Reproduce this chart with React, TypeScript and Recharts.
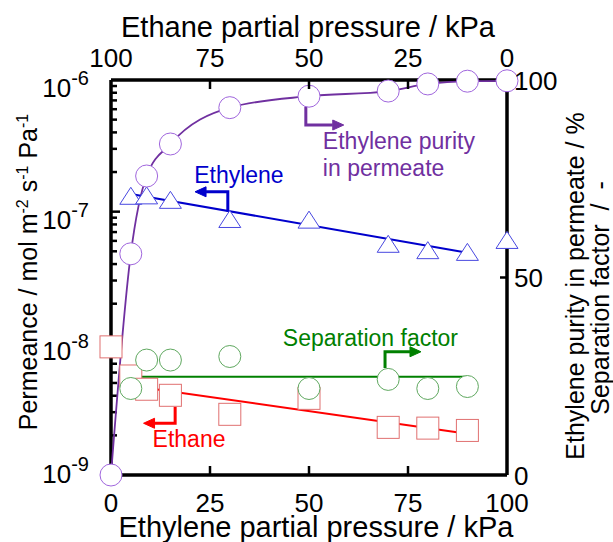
import React from "react";
import { ComposedChart, XAxis, YAxis, Scatter, ReferenceDot } from "recharts";

const FONT = "'Liberation Sans', Arial, Helvetica, sans-serif";

// ethylene partial pressure / kPa (ethane = 100 - ethylene)
const purityX = [0, 5, 9, 15, 30, 50, 70, 80, 90, 100];
const purity = [0, 56, 75.7, 83.8, 93, 95.9, 97.2, 99, 99.7, 99.8];

const ethyleneX = [5, 9, 15, 30, 50, 70, 80, 90, 100];
const ethylenePerm = [1.32e-7, 1.33e-7, 1.23e-7, 8.8e-8, 8.7e-8, 5.7e-8, 5.1e-8, 4.95e-8, 6.1e-8];

const ethaneX = [0, 5, 9, 15, 30, 50, 70, 80, 90];
const ethanePerm = [9.4e-9, 5.65e-9, 4.48e-9, 4.03e-9, 2.89e-9, 3.82e-9, 2.3e-9, 2.27e-9, 2.18e-9];

const sepX = [5, 9, 15, 30, 50, 70, 80, 90];
const sepFactor = [21.9, 29.1, 29.1, 30, 21.9, 24.2, 21.9, 22.4];

// fitted lines
const ethyleneFitX = [5, 90];
const ethyleneFit = [1.36e-7, 4.88e-8];
const ethaneFitX = [5, 90];
const ethaneFit = [4.77e-9, 2.06e-9];
const sepFitX = [5, 90];
const sepFit = [24.9, 24.9];

// axis ticks
const bottomTicks = [0, 25, 50, 75, 100];
const rightTicks = [0, 50, 100];
const decades = [1e-9, 1e-8, 1e-7, 1e-6];
const decadeExp = [-9, -8, -7, -6];
const minorMult = [2, 3, 4, 5, 6, 7, 8, 9];

// annotation arrows: [x (kPa), y (right axis)]
const ethyleneArrow = [[29.5, 66.7], [29.5, 71.7], [24, 71.7]];
const purityArrow = [[49.2, 93.2], [49.2, 88.6], [56, 88.6]];
const sepArrow = [[69.2, 27.1], [69.2, 31.2], [75.5, 31.2]];
const ethaneArrow = [[16.2, 17.3], [16.2, 13.1], [11, 13.1]];

const zip = (xs: number[], ys: number[]) => xs.map((x, i) => ({ x, y: ys[i] }));
const pts = (a: number[][]) => a.map(([x, y]) => ({ x, y }));

const minorTicks = decades.slice(0, 3).flatMap((d) => minorMult.map((m) => d * m));
const innerMajor = decades.slice(1, 3);

const PURPLE = "#7030A0";
const BLUE = "#0000CC";
const GREEN = "#008000";
const RED = "#FF0000";

const circle = (stroke: string) => (p: any) => (
  <circle cx={p.cx} cy={p.cy} r={11} fill="#fff" stroke={stroke} strokeWidth={1} />
);
const square = (p: any) => (
  <rect x={p.cx - 11} y={p.cy - 11} width={22} height={22} fill="#fff" stroke="#E07070" strokeWidth={1} />
);
const triangle = (p: any) => (
  <polygon
    points={`${p.cx},${p.cy - 8.5} ${p.cx + 11},${p.cy + 8.5} ${p.cx - 11},${p.cy + 8.5}`}
    fill="#fff"
    stroke="#4848E0"
    strokeWidth={1}
  />
);
const noDot = () => <g />;
const tickMark = (len: number) => (p: any) => (
  <path d={`M${p.cx},${p.cy}H${p.cx + len}`} stroke="#000" strokeWidth={2.5} fill="none" />
);

const arrowHead = (arr: number[][], dir: number, color: string) => (p: any) => {
  const last = arr[arr.length - 1];
  if (!p.payload || p.payload.x !== last[0] || p.payload.y !== last[1]) return <g />;
  return (
    <polygon
      points={`${p.cx},${p.cy - 5} ${p.cx + dir * 11},${p.cy} ${p.cx},${p.cy + 5}`}
      fill={color}
      stroke={color}
      strokeWidth={1}
    />
  );
};

const LeftTick = (p: any) => {
  const v = p.payload.value;
  const di = decades.findIndex((d) => Math.abs(d - v) / d < 1e-6);
  if (di < 0) return <g />;
  const base = di === 0 ? 8 : 17;
  return (
    <text x={p.x - 22} y={p.y + base} textAnchor="end" fontSize={26} fontFamily={FONT} fill="#000">
      <tspan>10</tspan>
      <tspan dy={-12} fontSize={20}>{`-${-decadeExp[di]}`}</tspan>
    </text>
  );
};

const RightTick = (p: any) => (
  <text x={p.x + 7} y={p.y + 9.5} fontSize={26} fontFamily={FONT} fill="#000">
    {p.payload.value}
  </text>
);

const BottomTick = (p: any) => {
  const v = p.payload.value;
  return (
    <g>
      {v !== 0 && v !== 100 && (
        <path d={`M${p.x},${p.y}V${p.y - 9}`} stroke="#000" strokeWidth={2.5} fill="none" />
      )}
      <text x={p.x} y={p.y + 37} textAnchor="middle" fontSize={26} fontFamily={FONT} fill="#000">
        {v}
      </text>
    </g>
  );
};

const TopTick = (p: any) => {
  const v = p.payload.value;
  return (
    <g>
      {v !== 0 && v !== 100 && (
        <path d={`M${p.x},${p.y}V${p.y + 9}`} stroke="#000" strokeWidth={2.5} fill="none" />
      )}
      <text x={p.x} y={p.y - 13} textAnchor="middle" fontSize={26} fontFamily={FONT} fill="#000">
        {v}
      </text>
    </g>
  );
};

const label = (lines: string[], color: string) => (p: any) => (
  <text x={p.cx} y={p.cy} fontSize={23} fontFamily={FONT} fill={color}>
    {lines.map((s, i) => (
      <tspan key={i} x={p.cx} dy={i === 0 ? 0 : 26.7}>
        {s}
      </tspan>
    ))}
  </text>
);

const axisLine = { stroke: "#000", strokeWidth: 3.5 };

export default function App() {
  return (
    <div style={{ position: "absolute", left: 0, top: 0, background: "#fff" }}>
      <ComposedChart width={613} height={542} margin={{ top: 0, right: 0, bottom: 0, left: 0 }}>
        <XAxis
          xAxisId="bottom"
          dataKey="x"
          type="number"
          domain={[0, 100]}
          ticks={bottomTicks}
          interval={0}
          height={67}
          tickSize={0}
          tickMargin={0}
          tickLine={false}
          axisLine={axisLine}
          tick={<BottomTick />}
        />
        <XAxis
          xAxisId="top"
          dataKey="x"
          orientation="top"
          type="number"
          domain={[0, 100]}
          reversed
          ticks={bottomTicks}
          interval={0}
          height={80}
          tickSize={0}
          tickMargin={0}
          tickLine={false}
          axisLine={axisLine}
          tick={<TopTick />}
        />
        <YAxis
          yAxisId="left"
          dataKey="y"
          type="number"
          scale="log"
          domain={[1e-9, 1e-6]}
          ticks={decades}
          interval={0}
          width={111}
          tickSize={0}
          tickMargin={0}
          tickLine={false}
          axisLine={axisLine}
          tick={<LeftTick />}
        />
        <YAxis
          yAxisId="right"
          dataKey="y"
          orientation="right"
          type="number"
          domain={[0, 100]}
          ticks={rightTicks}
          interval={0}
          width={106}
          tickSize={0}
          tickMargin={0}
          tickLine={false}
          axisLine={axisLine}
          tick={<RightTick />}
        />

        {/* inward tick marks of the log axis and the right axis */}
        <Scatter xAxisId="bottom" yAxisId="left" data={innerMajor.map((v) => ({ x: 0, y: v }))} shape={tickMark(9)} isAnimationActive={false} />
        <Scatter xAxisId="bottom" yAxisId="left" data={minorTicks.map((v) => ({ x: 0, y: v }))} shape={tickMark(6)} isAnimationActive={false} />
        <Scatter xAxisId="bottom" yAxisId="right" data={[{ x: 100, y: 50 }]} shape={tickMark(-7)} isAnimationActive={false} />

        {/* ethane partial pressure on the top axis (hidden points, keeps the axis live) */}
        <Scatter xAxisId="top" yAxisId="right" data={zip(purityX.map((x) => 100 - x), purity)} shape={noDot} isAnimationActive={false} />

        {/* fitted lines */}
        <Scatter xAxisId="bottom" yAxisId="right" data={zip(purityX, purity)} line={{ stroke: PURPLE, strokeWidth: 1.8 }} lineJointType="monotoneX" shape={noDot} isAnimationActive={false} />
        <Scatter xAxisId="bottom" yAxisId="left" data={zip(ethyleneFitX, ethyleneFit)} line={{ stroke: BLUE, strokeWidth: 2 }} shape={noDot} isAnimationActive={false} />
        <Scatter xAxisId="bottom" yAxisId="left" data={zip(ethaneFitX, ethaneFit)} line={{ stroke: RED, strokeWidth: 2 }} shape={noDot} isAnimationActive={false} />
        <Scatter xAxisId="bottom" yAxisId="right" data={zip(sepFitX, sepFit)} line={{ stroke: GREEN, strokeWidth: 2 }} shape={noDot} isAnimationActive={false} />

        {/* annotation arrows */}
        <Scatter xAxisId="bottom" yAxisId="right" data={pts(ethyleneArrow)} line={{ stroke: BLUE, strokeWidth: 3 }} shape={arrowHead(ethyleneArrow, -1, BLUE)} isAnimationActive={false} />
        <Scatter xAxisId="bottom" yAxisId="right" data={pts(purityArrow)} line={{ stroke: PURPLE, strokeWidth: 3 }} shape={arrowHead(purityArrow, 1, PURPLE)} isAnimationActive={false} />
        <Scatter xAxisId="bottom" yAxisId="right" data={pts(sepArrow)} line={{ stroke: GREEN, strokeWidth: 3 }} shape={arrowHead(sepArrow, 1, GREEN)} isAnimationActive={false} />
        <Scatter xAxisId="bottom" yAxisId="right" data={pts(ethaneArrow)} line={{ stroke: RED, strokeWidth: 3 }} shape={arrowHead(ethaneArrow, -1, RED)} isAnimationActive={false} />

        {/* markers */}
        <Scatter xAxisId="bottom" yAxisId="left" data={zip(ethaneX, ethanePerm)} shape={square} isAnimationActive={false} />
        <Scatter xAxisId="bottom" yAxisId="right" data={zip(sepX, sepFactor)} shape={circle("#5FA85F")} isAnimationActive={false} />
        <Scatter xAxisId="bottom" yAxisId="left" data={zip(ethyleneX, ethylenePerm)} shape={triangle} isAnimationActive={false} />
        <Scatter xAxisId="bottom" yAxisId="right" data={zip(purityX, purity)} shape={circle("#A066DD")} isAnimationActive={false} />

        {/* annotation texts */}
        <ReferenceDot xAxisId="bottom" yAxisId="right" x={21} y={73.9} shape={label(["Ethylene"], BLUE)} />
        <ReferenceDot xAxisId="bottom" yAxisId="right" x={53.5} y={82.5} shape={label(["Ethylene purity", "in permeate"], PURPLE)} />
        <ReferenceDot xAxisId="bottom" yAxisId="right" x={43.4} y={32.7} shape={label(["Separation factor"], GREEN)} />
        <ReferenceDot xAxisId="bottom" yAxisId="right" x={10.5} y={7.2} shape={label(["Ethane"], RED)} />

        {/* axis titles */}
        <text x={308} y={37} textAnchor="middle" fontSize={29} fontFamily={FONT} fill="#000">
          Ethane partial pressure / kPa
        </text>
        <text x={316} y={537} textAnchor="middle" fontSize={29} fontFamily={FONT} fill="#000">
          Ethylene partial pressure / kPa
        </text>
        <text x={37} y={272} transform="rotate(-90, 37, 272)" textAnchor="middle" fontSize={25} fontFamily={FONT} fill="#000">
          <tspan>Permeance / mol m</tspan>
          <tspan dy={-9} fontSize={16}>-2</tspan>
          <tspan dy={9}> s</tspan>
          <tspan dy={-9} fontSize={16}>-1</tspan>
          <tspan dy={9}> Pa</tspan>
          <tspan dy={-9} fontSize={16}>-1</tspan>
        </text>
        <text x={584} y={286} transform="rotate(-90, 584, 286)" textAnchor="middle" fontSize={25} fontFamily={FONT} fill="#000">
          Ethylene purity in permeate / %
        </text>
        <text x={609} y={298} transform="rotate(-90, 609, 298)" textAnchor="middle" fontSize={25} fontFamily={FONT} fill="#000">
          {"Separation factor \u00A0/ \u00A0-"}
        </text>
      </ComposedChart>
    </div>
  );
}
